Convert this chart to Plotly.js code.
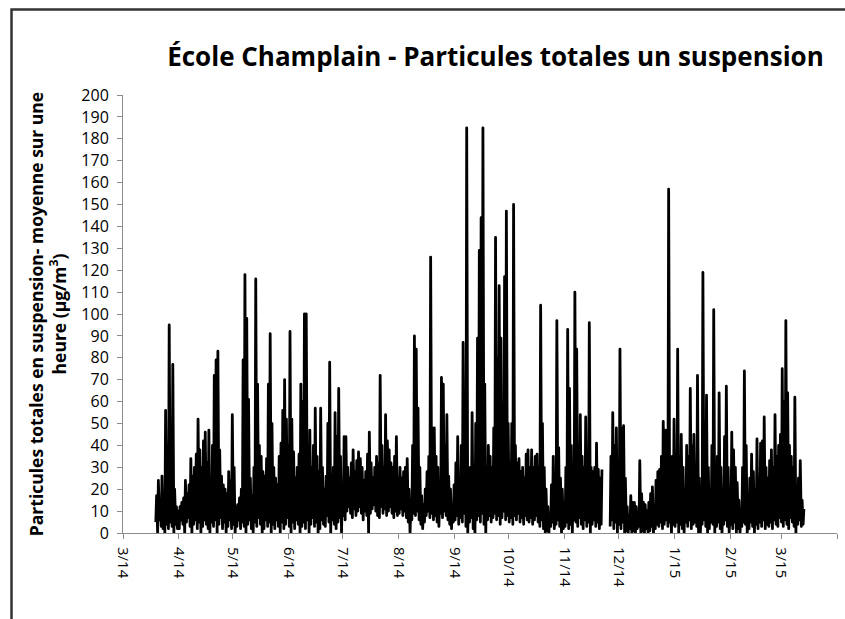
<!DOCTYPE html>
<html>
<head>
<meta charset="utf-8">
<script src="https://cdn.plot.ly/plotly-3.0.1.min.js"></script>
<style>
html, body { margin: 0; padding: 0; background: #ffffff; }
#chart { width: 845px; height: 619px; }
.js-line { stroke-linejoin: round !important; }
</style>
</head>
<body>
<div id="chart"></div>
<script>
// Daily hourly-average extremes (µg/m³)
const seriesStart = '2014-03-19';

const max2014_03 = [17,24,15,26,12,56,40,95,30,77,20,12,10];
const min2014_03 = [5,0,6,3,2,0,4,2,5,3,0,4,2];

const max2014_04 = [12,14,16,24,18,22,34,26,30,36,52,38,30,42,46,32,47,25,40,72,79,83,38,26,22,20,18,28,24,54];
const min2014_04 = [2,6,4,0,5,7,3,0,4,6,2,5,0,3,6,4,2,0,5,3,6,0,4,7,2,5,0,3,6,2];

const max2014_05 = [30,12,13,16,20,79,118,98,61,25,17,30,116,68,40,35,28,26,34,68,91,50,30,25,22,35,41,56,70,52,40];
const min2014_05 = [4,0,3,6,2,5,3,0,4,6,2,0,5,3,7,4,0,2,6,3,5,0,4,2,6,3,0,5,2,4,7];

const max2014_06 = [92,52,37,25,30,36,68,60,100,100,40,47,30,40,57,35,28,57,30,20,26,50,78,26,30,55,44,66,35,20];
const min2014_06 = [3,0,5,2,6,4,0,3,5,2,6,0,4,7,3,5,0,2,6,4,3,8,5,0,6,4,2,5,7,0];

const max2014_07 = [44,44,30,25,32,38,28,33,37,34,30,24,28,36,46,32,25,30,35,32,72,40,30,54,42,38,32,30,35,44,25];
const min2014_07 = [8,6,10,12,9,7,11,8,10,12,9,6,10,8,0,9,11,13,10,8,7,12,9,11,8,10,12,9,7,10,8];

const max2014_08 = [30,25,28,30,34,20,12,40,90,84,57,30,17,13,20,28,35,126,48,48,35,30,17,71,68,40,54,26,20,13,22];
const min2014_08 = [9,11,8,10,7,5,0,6,9,8,10,6,4,2,5,8,10,7,9,6,8,5,3,9,7,10,8,6,4,2,5];

const max2014_09 = [32,44,25,40,87,60,185,17,30,55,10,50,89,129,144,185,68,30,40,35,30,48,135,80,113,89,56,117,147,50];
const min2014_09 = [6,8,4,7,5,9,3,0,5,7,2,0,6,8,5,9,4,0,6,8,5,7,9,6,8,4,7,10,6,8];

const max2014_10 = [32,50,150,40,32,34,28,30,25,36,38,30,38,30,35,36,30,104,50,30,20,12,8,22,35,17,97,39,25,20,10];
const min2014_10 = [5,7,4,8,6,9,5,7,4,8,6,5,7,4,6,8,5,3,6,2,0,1,0,3,5,2,4,6,3,0,2];

const max2014_11 = [30,93,66,40,17,110,84,40,54,35,30,53,25,96,30,28,30,41,29,25,29,null,null,null,null,35,55,40,48,30];
const min2014_11 = [3,5,2,4,0,6,5,3,7,4,2,6,3,5,0,4,6,3,5,2,4,null,null,null,null,3,6,2,5,0];

const max2014_12 = [84,48,49,25,12,8,17,14,14,12,8,33,18,14,13,10,14,18,21,10,24,28,29,35,51,47,47,157,16,35,52];
const min2014_12 = [4,2,5,0,1,0,2,0,1,0,2,3,0,1,0,2,0,1,3,0,2,4,3,5,2,4,6,3,5,0,4];

const max2015_01 = [35,84,22,45,30,18,40,35,66,40,45,30,72,25,10,119,50,63,30,17,40,102,20,35,64,30,12,44,67,30,8];
const min2015_01 = [3,5,0,4,2,0,5,3,6,2,4,5,3,0,0,4,6,3,0,2,5,4,0,3,5,2,0,4,6,3,0];

const max2015_02 = [46,38,30,23,15,8,30,74,40,8,25,36,28,20,43,22,41,42,53,30,25,33,38,30,54,35,40,45];
const min2015_02 = [4,2,5,0,2,0,3,5,4,0,2,5,3,0,4,2,5,3,6,2,4,3,5,2,6,4,3,7];

const max2015_03 = [75,60,97,64,40,35,30,62,20,25,33,15,11];
const min2015_03 = [5,3,6,4,2,7,5,3,0,4,6,3,4];

const yTickStep = 10;
const xTickFormat = '%-m/%y';

const dailyMax = [].concat(max2014_03, max2014_04, max2014_05, max2014_06, max2014_07, max2014_08,
  max2014_09, max2014_10, max2014_11, max2014_12, max2015_01, max2015_02, max2015_03);
const dailyMin = [].concat(min2014_03, min2014_04, min2014_05, min2014_06, min2014_07, min2014_08,
  min2014_09, min2014_10, min2014_11, min2014_12, min2015_01, min2015_02, min2015_03);

function fmt(ms) { return new Date(ms).toISOString().slice(0, 16).replace('T', ' '); }

const t0 = Date.parse(seriesStart + 'T00:00:00Z');
const xs = [], ys = [];
for (let i = 0; i < dailyMax.length; i++) {
  const day = t0 + i * 86400000;
  xs.push(fmt(day + 5 * 3600000));  ys.push(dailyMin[i]);
  xs.push(fmt(day + 15 * 3600000)); ys.push(dailyMax[i]);
}

const FONT = '"Open Sans", "Noto Sans", sans-serif';

const trace = {
  type: 'scatter', mode: 'lines', x: xs, y: ys,
  line: { color: '#000000', width: 2.8, simplify: false },
  connectgaps: false, hoverinfo: 'x+y', showlegend: false
};

const plotL = 123, plotR = 837, plotT = 95, plotB = 533;

const layout = {
  width: 845, height: 619,
  margin: { l: plotL, r: 845 - plotR, t: plotT, b: 619 - plotB, pad: 0 },
  paper_bgcolor: '#ffffff', plot_bgcolor: '#ffffff',
  font: { family: FONT, color: '#000000', size: 15 },
  title: {
    text: 'École Champlain - Particules totales un suspension',
    font: { family: FONT, size: 26, color: '#000000', weight: 'bold' },
    xref: 'paper', x: (495.5 - plotL) / (plotR - plotL), xanchor: 'center',
    yref: 'container', y: 1 - 57 / 619, yanchor: 'middle'
  },
  xaxis: {
    type: 'date', range: ['2014-03-01', '2015-04-01'],
    tick0: '2014-03-01', dtick: 'M1', tickformat: xTickFormat, tickangle: 90,
    ticks: 'outside', ticklen: 5, tickwidth: 1, tickcolor: '#8c8c8c',
    ticklabelstandoff: 5,
    showline: true, linecolor: '#8c8c8c', linewidth: 1,
    showgrid: false, zeroline: false,
    tickfont: { family: FONT, size: 15, color: '#000000' },
    automargin: false, fixedrange: true
  },
  yaxis: {
    range: [0, 200], dtick: yTickStep, tick0: 0,
    ticks: 'outside', ticklen: 5, tickwidth: 1, tickcolor: '#8c8c8c',
    ticklabelstandoff: 5,
    showline: true, linecolor: '#8c8c8c', linewidth: 1,
    showgrid: false, zeroline: false,
    tickfont: { family: FONT, size: 16, color: '#000000' },
    title: {
      text: 'Particules totales en suspension- moyenne sur une<br>heure (µg/m<sup>3</sup>)',
      font: { family: FONT, size: 17.5, color: '#000000', weight: 'bold' },
      standoff: 10
    },
    automargin: false, fixedrange: true
  },
  shapes: [{
    type: 'rect', xref: 'paper', yref: 'paper',
    x0: (11.5 - plotL) / (plotR - plotL), x1: (860 - plotL) / (plotR - plotL),
    y0: (plotB - 640) / (plotB - plotT), y1: (plotB - 9.5) / (plotB - plotT),
    line: { color: '#333333', width: 2.5 }, fillcolor: 'rgba(0,0,0,0)', layer: 'above'
  }]
};

Plotly.newPlot('chart', [trace], layout, { displayModeBar: false, staticPlot: true });
</script>
</body>
</html>
